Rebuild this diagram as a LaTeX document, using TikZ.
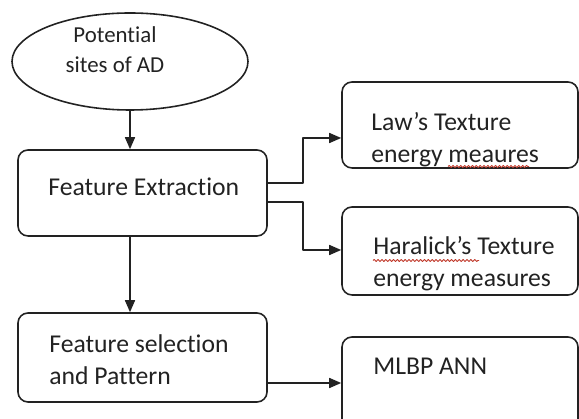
\documentclass[tikz,border=0pt]{standalone}
\usepackage{fontspec}
\setmainfont{Carlito}[Ligatures={NoCommon,NoRare,NoHistoric},Contextuals=NoAlternate]
\usepackage{tikz}
\usetikzlibrary{arrows.meta,shapes.geometric,decorations.pathmorphing}
\definecolor{ink}{HTML}{222222}
\definecolor{spell}{HTML}{C0392B}
\tikzset{
  every picture/.style={line join=round, >={Triangle[length=0.24cm,width=0.2cm]}},
  box/.style={draw=ink, line width=0.9pt, rounded corners=0.2cm, inner sep=0pt},
  ell/.style={draw=ink, line width=0.9pt, ellipse, inner sep=0pt},
  txt/.style={inner sep=0pt, anchor=west, align=left, text=ink, font=\fontsize{14.6}{18.2}\selectfont},
  arr/.style={->, draw=ink, line width=0.9pt},
  squig/.style={spell, line width=0.5pt, decorate, decoration={snake, amplitude=0.6pt, segment length=2.2pt}},
}

\begin{document}
\begin{tikzpicture}
\useasboundingbox (0,0) rectangle (11.58,8.38);
\clip (0,0) rectangle (11.58,8.38);
% shapes
\node[ell, minimum width=4.72cm, minimum height=1.94cm] (sites) at (2.60,7.15) {};
\node[box, minimum width=4.98cm, minimum height=1.72cm] (fe) at (2.85,4.52) {};
\node[box, minimum width=4.98cm, minimum height=1.78cm] (fs) at (2.85,1.23) {};
\node[box, minimum width=4.72cm, minimum height=1.72cm] (law) at (9.20,5.88) {};
\node[box, minimum width=4.72cm, minimum height=1.76cm] (har) at (9.20,3.36) {};
\node[box, minimum width=4.72cm, minimum height=2.24cm] (mlbp) at (9.20,0.52) {};
% texts
\node[txt, align=center, anchor=center, font=\fontsize{13}{17}\selectfont] (sitestxt) at (2.30,7.38) {Potential\\sites of AD};
\node[txt] (fetxt) at (0.96,4.64) {Feature Extraction};
\node[txt] (fstxt) at (0.98,1.19) {Feature selection\\and Pattern};
\node[txt] (lawtxt) at (7.42,5.58) {Law’s Texture\\energy meaures};
\node[txt] (hartxt) at (7.46,3.10) {Haralick’s Texture\\energy measures};
\node[txt] (mlbptxt) at (7.46,1.05) {MLBP ANN};
% spelling marks
\draw[squig] (8.96,5.05) -- (10.58,5.05);
\draw[squig] (7.46,3.17) -- (9.58,3.17);
% connector ends
\coordinate (bend) at (6.06,0);
\coordinate (feup) at ([yshift=0.20cm]fe.east);
\coordinate (fedown) at ([yshift=-0.18cm]fe.east);
\coordinate (lawin) at ([yshift=-0.26cm]law.west);
\coordinate (harin) at ([yshift=0.02cm]har.west);
\coordinate (fsout) at ([yshift=-0.51cm]fs.east);
% connectors
\draw[arr] (sites.south) -- (sites.south |- fe.north);
\draw[arr] (sites.south |- fe.south) -- (sites.south |- fs.north);
\draw[arr] (feup) -- (feup -| bend) |- (lawin);
\draw[arr] (fedown) -- (fedown -| bend) |- (harin);
\draw[arr] (fsout) -- (fsout -| mlbp.west);
\end{tikzpicture}
\end{document}
